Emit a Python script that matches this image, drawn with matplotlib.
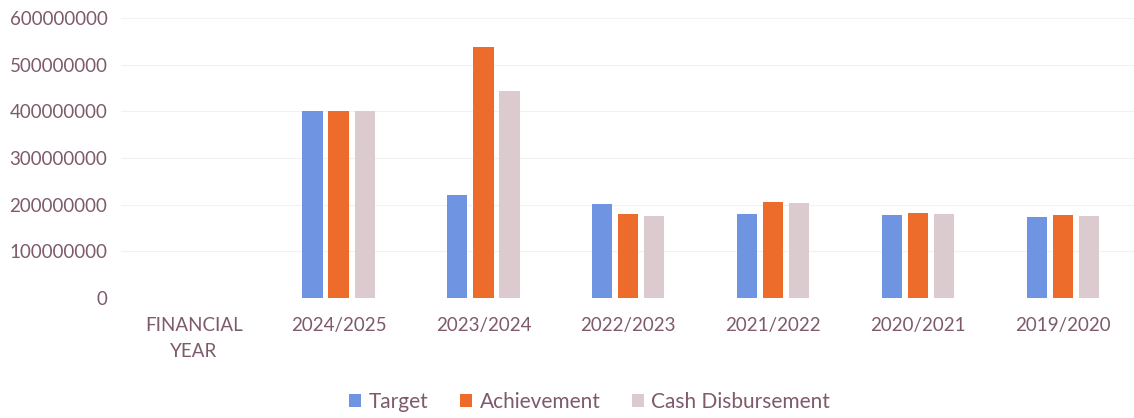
import numpy as np
from matplotlib import pyplot as plt

years = ['FINANCIAL\nYEAR', '2024/2025', '2023/2024', '2022/2023', '2021/2022', '2020/2021', '2019/2020']
target = [0, 400000000, 220000000, 201000000, 180000000, 178000000, 173000000]
achievement = [0, 401000000, 538000000, 180000000, 205000000, 182000000, 178000000]
cash = [0, 400000000, 443000000, 176000000, 203000000, 180000000, 176000000]

txt = '#7d5a6c'
plt.rcParams['font.family'] = ['Lato', 'DejaVu Sans']

fig = plt.figure(figsize=(11.34, 4.18), dpi=100)
ax = fig.add_axes([0.107, 0.287, 0.894, 0.67])

x = np.arange(len(years))
w = 0.14
gap = 0.18
ax.bar(x - gap, target, w, color='#6f95e2', label='Target')
ax.bar(x, achievement, w, color='#ee6c2b', label='Achievement')
ax.bar(x + gap, cash, w, color='#dbcbcf', label='Cash Disbursement')

ax.set_ylim(0, 600000000)
ax.set_xlim(-0.5, len(years) - 0.5)
ax.set_yticks(np.arange(0, 600000001, 100000000))
ax.set_yticklabels([str(v) for v in range(0, 600000001, 100000000)])
ax.set_xticks(x)
ax.set_xticklabels(years, linespacing=1.6)
ax.tick_params(colors=txt, labelsize=13.5, length=0, pad=10)
ax.tick_params(axis='x', pad=14)
ax.grid(axis='y', color='#f4f0f2', linewidth=0.8)
ax.set_axisbelow(True)
for s in ax.spines.values():
    s.set_visible(False)

fig.legend(loc='lower center', bbox_to_anchor=(0.52, -0.03), ncol=3, frameon=False,
           fontsize=15, labelcolor=txt, handlelength=0.6, handleheight=0.6,
           handletextpad=0.35, columnspacing=1.5)

plt.savefig('out.png', dpi=100)
